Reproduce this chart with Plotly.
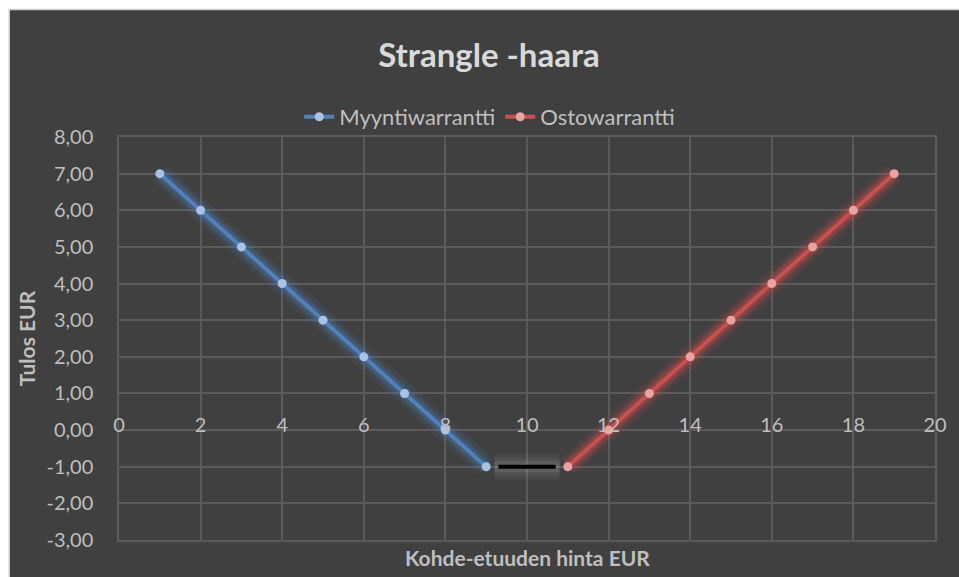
import plotly.graph_objects as go

# Data
put_x = [1, 2, 3, 4, 5, 6, 7, 8, 9]
put_y = [7, 6, 5, 4, 3, 2, 1, 0, -1]
call_x = [11, 12, 13, 14, 15, 16, 17, 18, 19]
call_y = [-1, 0, 1, 2, 3, 4, 5, 6, 7]
gap_x = [9.3, 10.7]
gap_y = [-1, -1]
x_ticks = [0, 2, 4, 6, 8, 10, 12, 14, 16, 18, 20]
y_ticks = [-3, -2, -1, 0, 1, 2, 3, 4, 5, 6, 7, 8]
y_tick_text = [f"{v:.2f}".replace(".", ",") for v in y_ticks]

W, H = 959, 577
L, R, T, B = 119, 19, 137, 37
pw, ph = W - L - R, H - T - B

BG = "#404040"
GRID = "#5b5b5b"
TXT = "#bfbfbf"
FONT = "Lato, Carlito, 'Open Sans', sans-serif"

fig = go.Figure()

def glow(x, y, color, layers):
    for w, a in layers:
        fig.add_trace(go.Scatter(x=x, y=y, mode="lines",
                                 line=dict(color=color, width=w),
                                 opacity=a, showlegend=False, hoverinfo="skip"))

glow(put_x, put_y, "#4f81bd", [(22, 0.09), (15, 0.15), (10, 0.25)])
glow(call_x, call_y, "#e0504d", [(22, 0.09), (15, 0.15), (10, 0.25)])
glow([gap_x[0] - 0.1, gap_x[1] + 0.1], gap_y, "#9a9a9a", [(26, 0.08), (18, 0.12), (11, 0.2)])

fig.add_trace(go.Scatter(x=put_x, y=put_y, mode="lines+markers", name="Myyntiwarrantti",
                         line=dict(color="#4f81bd", width=4),
                         marker=dict(color="#a9c3e4", size=9, line=dict(width=0))))
fig.add_trace(go.Scatter(x=call_x, y=call_y, mode="lines+markers", name="Ostowarrantti",
                         line=dict(color="#c9504d", width=4),
                         marker=dict(color="#eaa3a3", size=9, line=dict(width=0))))
fig.add_trace(go.Scatter(x=gap_x, y=gap_y, mode="lines", showlegend=False,
                         line=dict(color="#000000", width=4)))
# carrier trace for the tick-label axis that crosses at y = 0
fig.add_trace(go.Scatter(x=[x_ticks[0], x_ticks[-1]], y=[0, 0], xaxis="x2", mode="lines",
                         line=dict(width=0, color="rgba(0,0,0,0)"),
                         showlegend=False, hoverinfo="skip"))

fig.update_layout(
    width=W, height=H,
    margin=dict(l=L, r=R, t=T, b=B),
    paper_bgcolor=BG, plot_bgcolor=BG,
    font=dict(family=FONT, color=TXT),
    title=dict(text="<b>Strangle -haara</b>", x=489 / W, xanchor="center",
               y=1 - 55 / H, yanchor="middle",
               font=dict(size=33, color="#d9d9d9", family=FONT)),
    legend=dict(orientation="h", x=(492 - L) / pw, xanchor="center",
                y=1 + (T - 117) / ph, yanchor="middle",
                font=dict(size=22, color=TXT, family=FONT),
                bgcolor="rgba(0,0,0,0)"),
    xaxis=dict(range=[0, 20], tickvals=x_ticks, showgrid=True, gridcolor=GRID, gridwidth=1.5,
               zeroline=False, showline=True, mirror=True, linecolor=GRID, linewidth=1.5,
               showticklabels=False, ticks=""),
    xaxis2=dict(range=[0, 20], tickvals=x_ticks, overlaying="x", anchor="free",
                position=3 / 11, side="bottom", showgrid=False, zeroline=False,
                showline=False, ticks="", ticklabelposition="outside",
                ticklabelstandoff=-19,
                tickfont=dict(size=20, color=TXT, family=FONT)),
    yaxis=dict(range=[-3, 8], tickvals=y_ticks, ticktext=y_tick_text, showgrid=True,
               gridcolor=GRID, gridwidth=1.5, zeroline=False,
               showline=True, mirror=True, linecolor=GRID, linewidth=1.5,
               ticks="", ticklabelstandoff=20,
               tickfont=dict(size=20, color=TXT, family=FONT),
               title=dict(text="<b>Tulos EUR</b>", standoff=5,
                          font=dict(size=21, color=TXT, family=FONT))),
    annotations=[dict(text="<b>Kohde-etuuden hinta EUR</b>", xref="paper", yref="paper",
                      x=0.5, y=-(557 - (T + ph)) / ph, xanchor="center", yanchor="middle",
                      showarrow=False, font=dict(size=21, color=TXT, family=FONT))],
    shapes=[
        dict(type="rect", xref="paper", yref="paper",
             x0=-L / pw - 0.01, x1=(9 - L) / pw, y0=-B / ph - 0.01, y1=1 + T / ph + 0.01,
             fillcolor="#ffffff", line=dict(width=0), layer="above"),
        dict(type="rect", xref="paper", yref="paper",
             x0=-L / pw - 0.01, x1=1 + R / pw + 0.01, y0=1 + (T - 9) / ph, y1=1 + T / ph + 0.01,
             fillcolor="#ffffff", line=dict(width=0), layer="above"),
        dict(type="line", xref="paper", yref="paper",
             x0=(8.5 - L) / pw, x1=(8.5 - L) / pw, y0=-B / ph - 0.01, y1=1 + (T - 9) / ph,
             line=dict(color="#d0d0d0", width=1.5), layer="above"),
        dict(type="line", xref="paper", yref="paper",
             x0=(8.5 - L) / pw, x1=1 + R / pw + 0.01, y0=1 + (T - 9.5) / ph, y1=1 + (T - 9.5) / ph,
             line=dict(color="#d0d0d0", width=1.5), layer="above"),
    ],
)

fig.write_html("out.html", config={"displayModeBar": False},
               post_script="document.body.style.margin='0';")
